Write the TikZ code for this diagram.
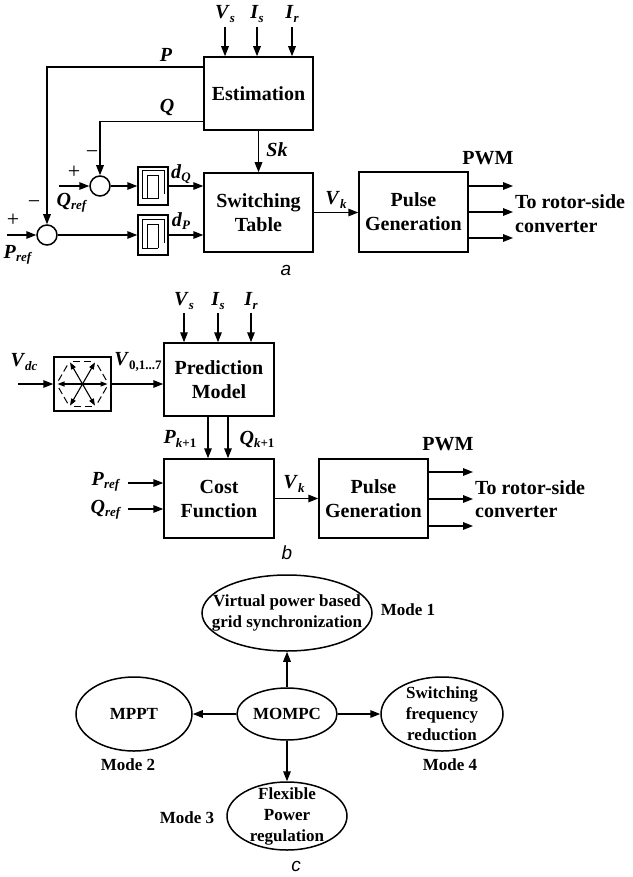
\documentclass[tikz,border=0pt]{standalone}
\usepackage{fontspec}
\setmainfont{Liberation Serif}
\newfontfamily\sansf{Liberation Sans}
\usetikzlibrary{arrows.meta,shapes.geometric,calc}
\newcommand{\iv}[2]{\textit{#1}\raisebox{-0.35ex}{\fontsize{13}{13}\selectfont\textit{#2}}}
\newcommand{\ivu}[2]{\textit{#1}\raisebox{-0.35ex}{\fontsize{13}{13}\selectfont #2}}
\begin{document}
\begin{tikzpicture}[x=1pt,y=-1pt,
  every node/.style={font=\fontsize{20}{24}\selectfont\bfseries, inner sep=0pt},
  blk/.style={draw, line width=1.5pt, align=center},
  arr/.style={line width=1.5pt, -{Triangle[length=10pt,width=7.5pt]}},
  sarr/.style={line width=1.1pt, -{Triangle[length=7pt,width=5pt]}},
  sumc/.style={draw, circle, line width=1.5pt, minimum size=20pt},
  hyst/.style={draw, line width=1.5pt, minimum width=30pt},
  thin/.style={line width=1pt},
  ell/.style={draw, ellipse, line width=1.5pt},
  etxt/.style={font=\fontsize{17}{21}\selectfont\bfseries, align=center},
  sgn/.style={font=\fontsize{22}{22}\selectfont\mdseries},
  panlab/.style={font=\fontsize{19}{19}\selectfont\sansf\itshape\mdseries},
]
\useasboundingbox (0,0) rectangle (632,877);

% ---------------- panel a ----------------
\node[blk, minimum width=109pt, minimum height=73pt] (est) at (258.5,93.5) {Estimation};
\node[blk, minimum width=109pt, minimum height=79pt] (sw) at (258.5,212.5) {Switching\\Table};
\node[blk, minimum width=109pt, minimum height=80pt] (pg) at (413.5,212) {Pulse\\Generation};
\node[sumc] (sq) at (100,186) {};
\node[sumc] (sp) at (47,235) {};
\node[hyst, minimum height=38pt] (hq) at (153,186) {};
\node[hyst, minimum height=40pt] (hp) at (153,235) {};
\foreach \h in {hq,hp}{
  \begin{scope}[shift={(\h)}]
    \draw[thin] (11,8) -- (11,-15) -- (-11,-15) -- (-11,13) -- (5,13);
    \draw[thin] (-6,13) -- (-6,-10) -- (5,-10) -- (5,13);
  \end{scope}
}
\coordinate (vsa) at (225,27);
\coordinate (isa) at (257,27);
\coordinate (ira) at (292,27);
\foreach \c in {vsa,isa,ira}{\draw[arr] (\c) -- (\c |- est.north);}
\node at (225,14) {\iv{V}{s}};
\node at (257,14) {\iv{I}{s}};
\node at (292,14) {\iv{I}{r}};

\draw[arr] ($(est.north west)+(0,11)$) -| (sp.north);
\draw[arr] ($(est.south west)+(0,-9)$) -| (sq.north);
\coordinate (qin) at (59,186);
\coordinate (pin) at (7,235);
\draw[arr] (qin) -- (sq.west);
\draw[arr] (pin) -- (sp.west);
\draw[arr] (sq.east) -- (hq.west);
\draw[arr] (sp.east) -- (hp.west);
\draw[arr] (hq.east) -- (hq.east -| sw.west);
\draw[arr] (hp.east) -- (hp.east -| sw.west);
\draw[arr] (est.south) -- (sw.north);
\draw[arr] (sw.east) -- (sw.east -| pg.west);
\coordinate (a1) at (513,186);
\coordinate (a2) at (513,212);
\coordinate (a3) at (513,238);
\foreach \c in {a1,a2,a3}{\draw[arr] (pg.east |- \c) -- (\c);}

\node at (166,55) {\textit{P}};
\node at (167,108) {\textit{Q}};
\node at (277,150) {\textit{Sk}};
\node[sgn] at (92,155) {−};
\node[sgn] at (74,172) {+};
\node at (72,203) {\iv{Q}{ref}};
\node[sgn] at (34,205) {−};
\node[sgn] at (13,220) {+};
\node at (18,255) {\iv{P}{ref}};
\node at (181,174) {\iv{d}{Q}};
\node at (181,221) {\iv{d}{P}};
\node at (336,200) {\iv{V}{k}};
\node at (488,158) {PWM};
\node[anchor=west] at (515,202) {To rotor-side};
\node[anchor=west] at (515,227) {converter};
\node[panlab] at (286,270) {a};

% ---------------- panel b ----------------
\node[draw, line width=1.5pt, minimum width=57pt, minimum height=54pt] (inv) at (82.5,384) {};
\begin{scope}[shift={(inv)}]
  \foreach \a in {0,60,...,300}{
    \draw[sarr] (0,0) -- (\a:25);
    \draw[thin, dash pattern=on 7pt off 3.5pt]
      ($(\a:26)!0.15!(\a+60:26)$) -- ($(\a:26)!0.85!(\a+60:26)$);
  }
\end{scope}
\node[blk, minimum width=110pt, minimum height=73pt] (pm) at (219,379.5) {Prediction\\Model};
\node[blk, minimum width=110pt, minimum height=79pt] (cf) at (219,498.5) {Cost\\Function};
\node[blk, minimum width=109pt, minimum height=79pt] (pg2) at (373.5,498.5) {Pulse\\Generation};

\coordinate (vdc) at (18,384);
\draw[arr] (vdc) -- (inv.west);
\draw[arr] (inv.east) -- (inv.east -| pm.west);
\coordinate (vsb) at (184,313);
\coordinate (isb) at (218,313);
\coordinate (irb) at (251,313);
\foreach \c in {vsb,isb,irb}{\draw[arr] (\c) -- (\c |- pm.north);}
\node at (184,301) {\iv{V}{s}};
\node at (218,301) {\iv{I}{s}};
\node at (251,301) {\iv{I}{r}};
\draw[arr] ($(pm.south)+(-11,0)$) -- ($(cf.north)+(-11,0)$);
\draw[arr] ($(pm.south)+(9,0)$) -- ($(cf.north)+(9,0)$);
\coordinate (prb) at (128,483);
\coordinate (qrb) at (128,509);
\draw[arr] (prb) -- (prb -| cf.west);
\draw[arr] (qrb) -- (qrb -| cf.west);
\draw[arr] (cf.east) -- (pg2.west);
\coordinate (b1) at (473,472);
\coordinate (b2) at (473,499);
\coordinate (b3) at (473,526);
\foreach \c in {b1,b2,b3}{\draw[arr] (pg2.east |- \c) -- (\c);}

\node at (24,362) {\iv{V}{dc}};
\node at (138,362) {\ivu{V}{0,1...7}};
\node at (180,439) {\textit{P}\raisebox{-0.35ex}{\fontsize{13}{13}\selectfont\textit{k}+1}};
\node at (257,439) {\textit{Q}\raisebox{-0.35ex}{\fontsize{13}{13}\selectfont\textit{k}+1}};
\node at (106,482) {\iv{P}{ref}};
\node at (106,510) {\iv{Q}{ref}};
\node at (294,484) {\iv{V}{k}};
\node at (448,444) {PWM};
\node[anchor=west] at (475,488) {To rotor-side};
\node[anchor=west] at (475,512) {converter};
\node[panlab] at (287,553) {b};

% ---------------- panel c ----------------
\node[ell, minimum width=170pt, minimum height=76pt,
  label={[etxt]center:Virtual power based\\grid synchronization}] (m1) at (287,613) {};
\node[ell, etxt, minimum width=100pt, minimum height=52pt] (mom) at (287,714) {MOMPC};
\node[ell, minimum width=116pt, minimum height=74pt,
  label={[etxt]center:MPPT}] (m2) at (134,714) {};
\node[ell, minimum width=122pt, minimum height=74pt,
  label={[etxt]center:Switching\\frequency\\reduction}] (m4) at (442,714) {};
\node[ell, minimum width=120pt, minimum height=68pt,
  label={[etxt]center:Flexible\\Power\\regulation}] (m3) at (287,816) {};
\draw[arr] (mom) -- (m1);
\draw[arr] (mom) -- (m2);
\draw[arr] (mom) -- (m4);
\draw[arr] (mom) -- (m3);
\node[etxt] at (408,610) {Mode 1};
\node[etxt] at (128,765) {Mode 2};
\node[etxt] at (187,818) {Mode 3};
\node[etxt] at (450,765) {Mode 4};
\node[panlab] at (296,866) {c};
\end{tikzpicture}
\end{document}
